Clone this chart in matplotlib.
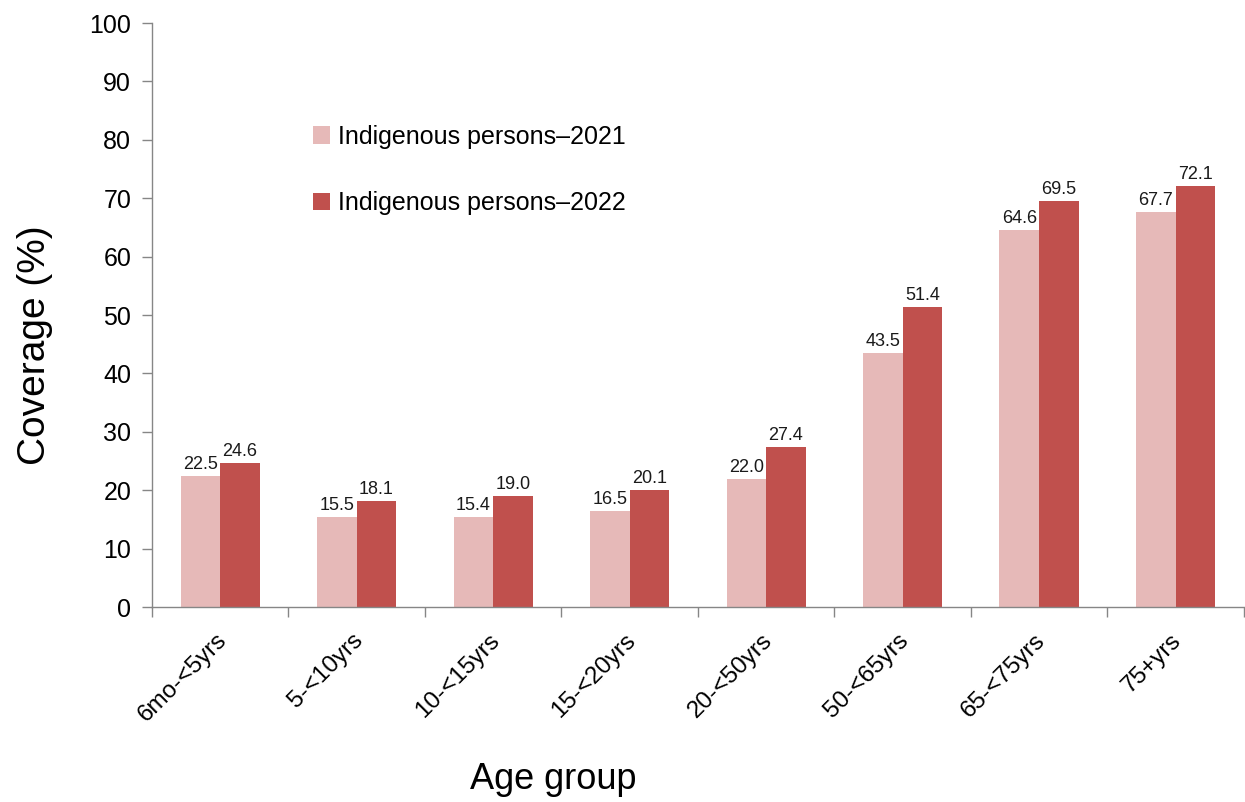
import matplotlib.pyplot as plt
import matplotlib.transforms as mtransforms
import numpy as np
from matplotlib.ticker import FixedLocator

plt.rcParams['font.family'] = ['Liberation Sans', 'DejaVu Sans']

age_groups = ["6mo-<5yrs", "5-<10yrs", "10-<15yrs", "15-<20yrs",
              "20-<50yrs", "50-<65yrs", "65-<75yrs", "75+yrs"]
cov_2021 = [22.5, 15.5, 15.4, 16.5, 22.0, 43.5, 64.6, 67.7]
cov_2022 = [24.6, 18.1, 19.0, 20.1, 27.4, 51.4, 69.5, 72.1]
series_names = ["Indigenous persons\u20132021", "Indigenous persons\u20132022"]

c21 = "#E6B9B8"
c22 = "#C0504D"
axis_grey = "#868686"

fig = plt.figure(figsize=(12.45, 8.02), dpi=100)
ax = fig.add_axes([0.1221, 0.2431, 0.8769, 0.7282])

x = np.arange(len(age_groups))
w = 0.29
b1 = ax.bar(x - w / 2, cov_2021, w, color=c21, label=series_names[0])
b2 = ax.bar(x + w / 2, cov_2022, w, color=c22, label=series_names[1])

for bars, vals in ((b1, cov_2021), (b2, cov_2022)):
    for r, v in zip(bars, vals):
        ax.text(r.get_x() + r.get_width() / 2, v + 0.5, f"{v:.1f}",
                ha="center", va="bottom", fontsize=13, color="#1a1a1a")

ax.set_xlim(-0.5, len(age_groups) - 0.5)
ax.set_ylim(0, 100)
ax.set_yticks(np.arange(0, 101, 10))
ax.tick_params(axis="y", labelsize=18, length=7, color=axis_grey, width=1, pad=8)

# category labels at the centres, tick marks between groups
ax.set_xticks(x)
ax.set_xticklabels(age_groups, rotation=45, ha="right",
                   rotation_mode="anchor", fontsize=17.5)
ax.tick_params(axis="x", which="major", length=0, pad=16)
ax.xaxis.set_minor_locator(FixedLocator(np.arange(-0.5, len(age_groups), 1.0)))
ax.tick_params(axis="x", which="minor", length=7, color=axis_grey, width=1)
shift = mtransforms.ScaledTranslation(-5 / 100, 0, fig.dpi_scale_trans)
for lbl in ax.get_xticklabels():
    lbl.set_transform(lbl.get_transform() + shift)

for s in ("top", "right"):
    ax.spines[s].set_visible(False)
for s in ("left", "bottom"):
    ax.spines[s].set_color(axis_grey)
    ax.spines[s].set_linewidth(1)

fig.text(0.028, 0.57, "Coverage (%)", rotation=90, ha="center", va="center",
         fontsize=28)
fig.text(0.444, 0.028, "Age group", ha="center", va="center", fontsize=26)

ax.legend(loc="upper left", bbox_to_anchor=(0.147, 0.826), frameon=False,
          fontsize=18, handlelength=0.7, handleheight=0.7, handletextpad=0.3,
          labelspacing=1.7, borderaxespad=0, borderpad=0)

fig.savefig("out.png", dpi=100)
